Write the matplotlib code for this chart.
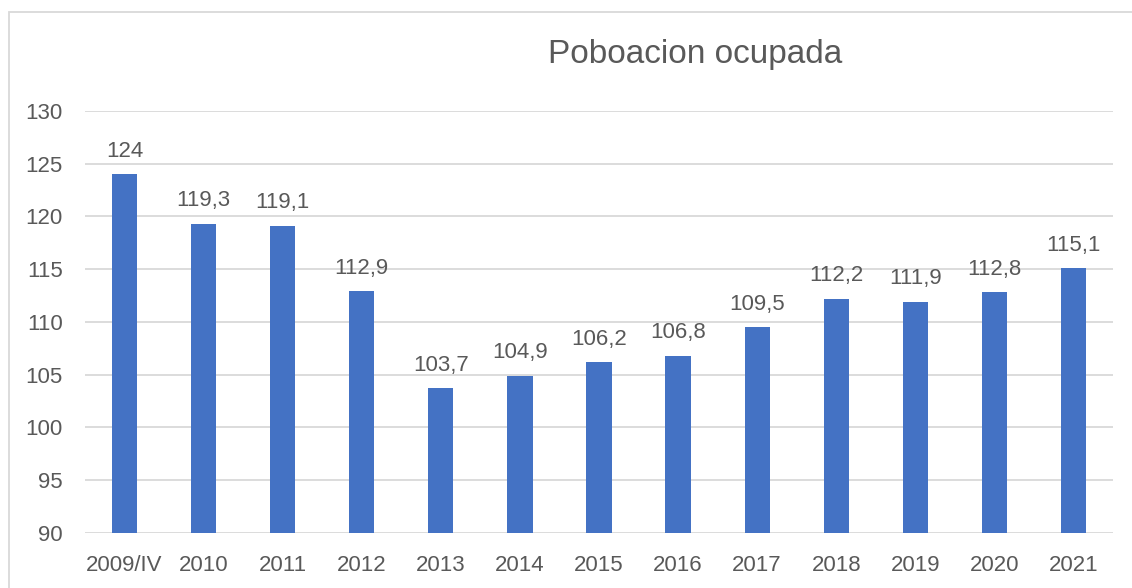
import matplotlib
matplotlib.use('Agg')
import matplotlib.pyplot as plt
from matplotlib.patches import Rectangle

# Data
categories = ['2009/IV', '2010', '2011', '2012', '2013', '2014', '2015',
              '2016', '2017', '2018', '2019', '2020', '2021']
values = [124, 119.3, 119.1, 112.9, 103.7, 104.9, 106.2,
          106.8, 109.5, 112.2, 111.9, 112.8, 115.1]
y_ticks = [90, 95, 100, 105, 110, 115, 120, 125, 130]

plt.rcParams['font.family'] = ['Liberation Sans', 'DejaVu Sans']
text_color = '#595959'
grid_color = '#d9d9d9'
bar_color = '#4472C4'

W, H = 1132, 588
fig = plt.figure(figsize=(W / 100, H / 100), dpi=100)

# outer chart border (left and top edges visible)
fig.patches.append(Rectangle((9 / W, -0.1), 1.2, (H - 12) / H + 0.1,
                             transform=fig.transFigure, fill=False,
                             edgecolor=grid_color, linewidth=1.3))

ax = fig.add_axes([85 / W, (H - 533) / H, 1028 / W, 422 / H])

x = range(len(categories))
ax.bar(x, values, width=0.32, color=bar_color, zorder=3)

for xi, v in zip(x, values):
    label = ('%g' % v).replace('.', ',')
    ax.annotate(label, (xi, v), xytext=(0, 9), textcoords='offset points',
                ha='center', va='bottom', fontsize=16, color=text_color)

ax.set_xlim(-0.5, len(categories) - 0.5)
ax.set_ylim(90, 130)
ax.set_yticks(y_ticks)
ax.set_xticks(list(x))
ax.set_xticklabels(categories)
ax.tick_params(axis='both', length=0, labelsize=16, labelcolor=text_color)
ax.tick_params(axis='y', pad=16)
ax.tick_params(axis='x', pad=16)
ax.grid(axis='y', color=grid_color, linewidth=1.3, zorder=0)
for s in ax.spines.values():
    s.set_visible(False)

fig.text(695 / W, (H - 55) / H, 'Poboacion ocupada', ha='center', va='center',
         fontsize=24, color=text_color)

fig.savefig('out.png', dpi=100)
